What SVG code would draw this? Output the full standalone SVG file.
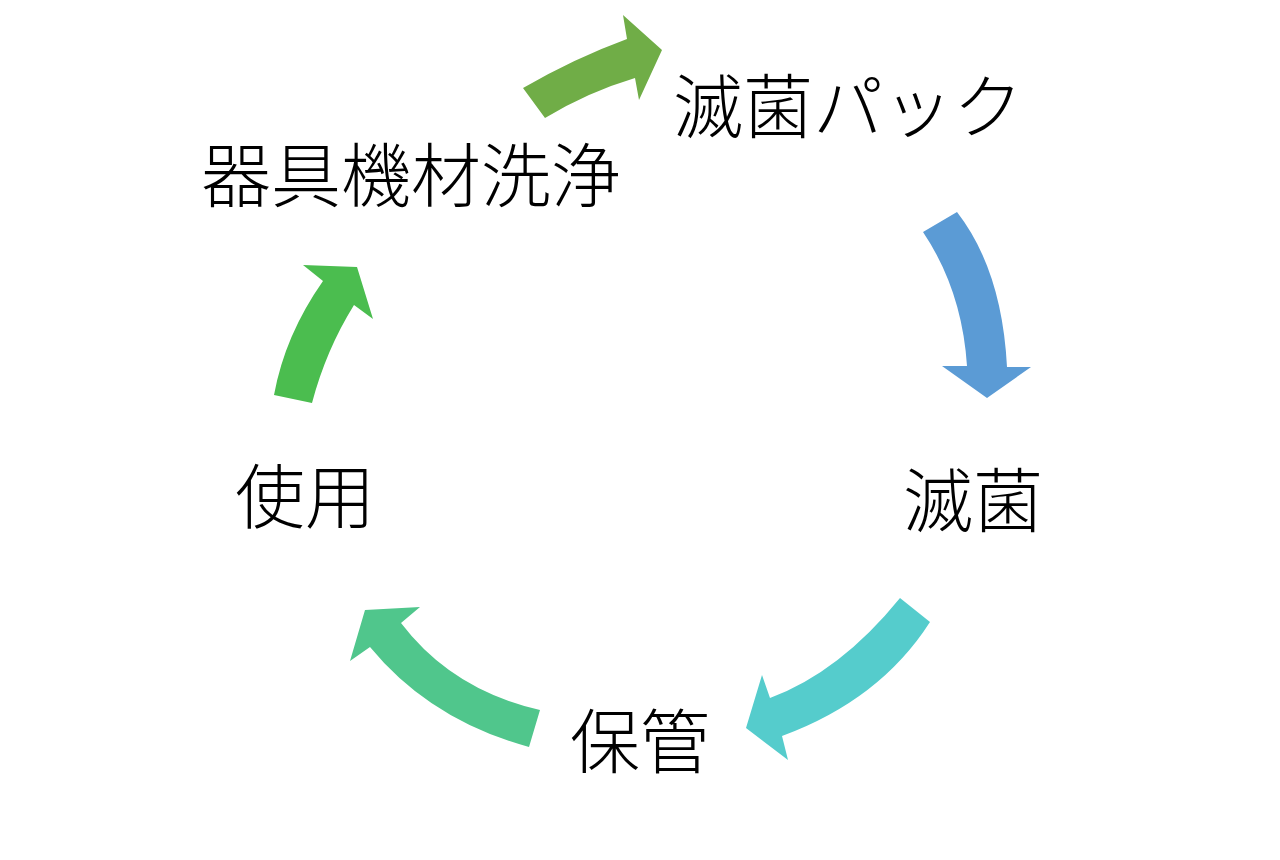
<svg xmlns="http://www.w3.org/2000/svg" width="1280" height="860" viewBox="0 0 1280 860">
<style>
.lbl{font-family:"Noto Sans CJK JP","Noto Sans CJK SC",sans-serif;font-size:70px;font-weight:300;fill:#000}
</style>
<rect width="1280" height="860" fill="#fff"/>
<g id="connectors">
<path id="a1" fill="#70AD47" d="M523,88 Q575,58 627,39 L623,15 L662,50 L639,100 L635,78 Q588,92 545,118 Z"/>
<path id="a2" fill="#5B9BD5" d="M923,232 Q962,290 967,366 L942,366 L987,398 L1031,367 L1007,367 Q1002,270 957,212 Z"/>
<path id="a3" fill="#55CCCC" d="M900,598 Q840,672 770,698 L762,675 L746,728 L788,760 L782,736 Q880,700 930,622 Z"/>
<path id="a4" fill="#50C68C" d="M540,710 Q452,690 401,623 L420,607 L365,610 L350,661 L370,647 Q430,720 529,747 Z"/>
<path id="a5" fill="#4BBD4F" d="M274,395 Q285,335 323,281 L303,265 L357,267 L373,319 L354,305 Q326,350 312,403 Z"/>
</g>
<g id="n1"><text class="lbl" x="673" y="133">滅菌パック</text></g>
<g id="n2"><text class="lbl" x="903" y="527">滅菌</text></g>
<g id="n3"><text class="lbl" x="570" y="768">保管</text></g>
<g id="n4"><text class="lbl" x="235" y="523">使用</text></g>
<g id="n5"><text class="lbl" x="201" y="202">器具機材洗浄</text></g>
</svg>
